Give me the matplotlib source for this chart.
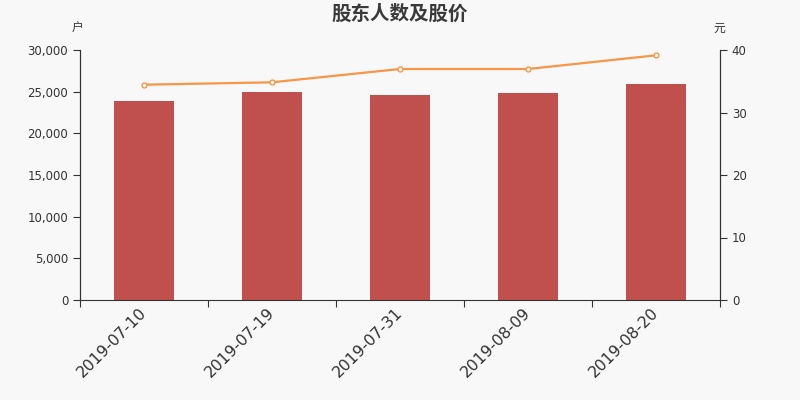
import matplotlib
matplotlib.use("Agg")
import matplotlib.pyplot as plt
from matplotlib.ticker import FuncFormatter, FixedLocator

plt.rcParams['font.family'] = ['Noto Sans CJK SC', 'DejaVu Sans']

dates = ["2019-07-10", "2019-07-19", "2019-07-31", "2019-08-09", "2019-08-20"]
holders = [23840, 25000, 24640, 24840, 25960]
prices = [34.45, 34.83, 36.96, 36.96, 39.15]

bg = "#f8f8f8"
fig = plt.figure(figsize=(8, 4), dpi=100, facecolor=bg)
ax = fig.add_axes([0.1, 0.25, 0.8, 0.625], facecolor=bg)
ax2 = ax.twinx()

x = list(range(len(dates)))
ax.bar(x, holders, width=0.47, color="#c0504d", zorder=2)
ax2.plot(x, prices, color="#f79646", lw=1.6, marker="o", ms=3.5,
         markerfacecolor="white", markeredgecolor="#f79646", markeredgewidth=1, zorder=3)

ax.set_xlim(-0.5, len(dates) - 0.5)
ax.set_ylim(0, 30000)
ax2.set_ylim(0, 40)
ax.set_yticks(range(0, 30001, 5000))
ax2.set_yticks(range(0, 41, 10))
ax.yaxis.set_major_formatter(FuncFormatter(lambda v, p: f"{int(v):,}"))

ax.xaxis.set_major_locator(FixedLocator([i - 0.5 for i in range(len(dates) + 1)]))
ax.xaxis.set_major_formatter(FuncFormatter(lambda v, p: ""))
ax.set_xticks(x, minor=True)
ax.set_xticklabels(dates, minor=True, rotation=45, ha="right", va="center",
                   rotation_mode="anchor", fontsize=11.3, color="#333333",
                   family="DejaVu Sans")
ax.tick_params(axis="x", which="minor", length=0, pad=7.5)
ax.tick_params(axis="x", which="major", length=5, color="#333333")

for a in (ax, ax2):
    a.spines["top"].set_visible(False)
    a.tick_params(axis="y", labelsize=8.5, colors="#333333", length=5)
    for s in ("left", "right", "bottom"):
        a.spines[s].set_color("#333333")
ax2.spines["bottom"].set_visible(False)
for lab in ax.get_yticklabels() + ax2.get_yticklabels():
    lab.set_family("DejaVu Sans")

fig.text(0.5, 0.965, "股东人数及股价", ha="center", va="center", fontsize=14,
         fontweight="bold", color="#3a3a3a")
fig.text(0.097, 0.93, "户", ha="center", va="center", fontsize=8.5, color="#333333")
fig.text(0.899, 0.93, "元", ha="center", va="center", fontsize=8.5, color="#333333")

fig.savefig("out.png", dpi=100, facecolor=bg)
